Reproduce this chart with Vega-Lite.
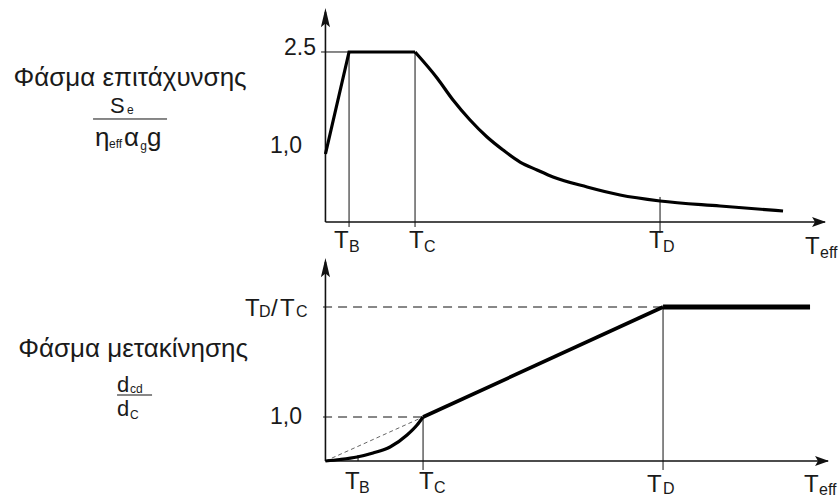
{
  "$schema": "https://vega.github.io/schema/vega-lite/v6.json",
  "padding": 0,
  "spacing": 0,
  "bounds": "flush",
  "background": "white",
  "config": {"view": {"stroke": null}, "font": "Liberation Sans"},
  "datasets": {
    "curves": [
      {"panel": "top", "part": "rise", "i": 0, "x": 0, "y": 1.0},
      {"panel": "top", "part": "rise", "i": 1, "x": 0.1409, "y": 2.5},
      {"panel": "top", "part": "rise", "i": 2, "x": 0.5349, "y": 2.5},
      {"panel": "top", "part": "decay", "i": 0, "x": 0.5349, "y": 2.5},
      {"panel": "top", "part": "decay", "i": 1, "x": 0.6663, "y": 2.118},
      {"panel": "top", "part": "decay", "i": 2, "x": 0.7618, "y": 1.794},
      {"panel": "top", "part": "decay", "i": 3, "x": 0.8633, "y": 1.5},
      {"panel": "top", "part": "decay", "i": 4, "x": 0.9648, "y": 1.25},
      {"panel": "top", "part": "decay", "i": 5, "x": 1.0603, "y": 1.059},
      {"panel": "top", "part": "decay", "i": 6, "x": 1.1618, "y": 0.882},
      {"panel": "top", "part": "decay", "i": 7, "x": 1.2633, "y": 0.765},
      {"panel": "top", "part": "decay", "i": 8, "x": 1.3588, "y": 0.662},
      {"panel": "top", "part": "decay", "i": 9, "x": 1.5618, "y": 0.515},
      {"panel": "top", "part": "decay", "i": 10, "x": 1.7588, "y": 0.397},
      {"panel": "top", "part": "decay", "i": 11, "x": 1.9976, "y": 0.309},
      {"panel": "top", "part": "decay", "i": 12, "x": 2.3558, "y": 0.235},
      {"panel": "top", "part": "decay", "i": 13, "x": 2.7319, "y": 0.162},
      {"panel": "bottom", "part": "bend", "i": 0, "x": 0, "y": 0},
      {"panel": "bottom", "part": "bend", "i": 1, "x": 0.087, "y": 0.034},
      {"panel": "bottom", "part": "bend", "i": 2, "x": 0.1887, "y": 0.091},
      {"panel": "bottom", "part": "bend", "i": 3, "x": 0.2842, "y": 0.182},
      {"panel": "bottom", "part": "bend", "i": 4, "x": 0.3857, "y": 0.318},
      {"panel": "bottom", "part": "bend", "i": 5, "x": 0.4872, "y": 0.591},
      {"panel": "bottom", "part": "bend", "i": 6, "x": 0.5469, "y": 0.818},
      {"panel": "bottom", "part": "bend", "i": 7, "x": 0.5827, "y": 1.0},
      {"panel": "bottom", "part": "ramp", "i": 0, "x": 0.5827, "y": 1.0},
      {"panel": "bottom", "part": "ramp", "i": 1, "x": 2.0155, "y": 3.5},
      {"panel": "bottom", "part": "flat", "i": 0, "x": 2.0155, "y": 3.5},
      {"panel": "bottom", "part": "flat", "i": 1, "x": 2.8931, "y": 3.5}
    ],
    "segments": [
      {"panel": "top", "kind": "axis", "x": 0, "y": 0, "x2": 0, "y2": 3.088},
      {"panel": "top", "kind": "axis", "x": 0, "y": 0, "x2": 2.9827, "y2": 0},
      {"panel": "top", "kind": "guide", "x": -0.0263, "y": 2.5, "x2": 0.1409, "y2": 2.5},
      {"panel": "top", "kind": "guide", "x": 0.1409, "y": -0.0735, "x2": 0.1409, "y2": 2.5},
      {"panel": "top", "kind": "guide", "x": 0.5349, "y": -0.0735, "x2": 0.5349, "y2": 2.5},
      {"panel": "top", "kind": "guide", "x": 1.9976, "y": -0.162, "x2": 1.9976, "y2": 0.368},
      {"panel": "top", "kind": "guide", "x": -1.3875, "y": 1.5147, "x2": -0.9457, "y2": 1.5147},
      {"panel": "bottom", "kind": "axis", "x": 0, "y": 0, "x2": 0, "y2": 4.523},
      {"panel": "bottom", "kind": "axis", "x": 0, "y": 0, "x2": 3.0005, "y2": 0},
      {"panel": "bottom", "kind": "guide", "x": 0.1946, "y": 0, "x2": 0.1946, "y2": 0.136},
      {"panel": "bottom", "kind": "guide", "x": 0.5827, "y": -0.2045, "x2": 0.5827, "y2": 1.0},
      {"panel": "bottom", "kind": "guide", "x": 2.0155, "y": -0.2045, "x2": 2.0155, "y2": 3.5},
      {"panel": "bottom", "kind": "guide", "x": -1.2442, "y": 1.5, "x2": -1.0352, "y2": 1.5},
      {"panel": "bottom", "kind": "dash", "x": -0.0143, "y": 3.5, "x2": 2.0155, "y2": 3.5},
      {"panel": "bottom", "kind": "dash", "x": -0.0143, "y": 1.0, "x2": 0.5827, "y2": 1.0},
      {"panel": "bottom", "kind": "diag", "x": 0, "y": 0, "x2": 0.5827, "y2": 1.0}
    ],
    "arrows": [
      {"panel": "top", "dir": "up", "x": 0, "y": 2.971},
      {"panel": "top", "dir": "right", "x": 2.9289, "y": 0},
      {"panel": "bottom", "dir": "up", "x": 0, "y": 4.341},
      {"panel": "bottom", "dir": "right", "x": 2.9468, "y": 0}
    ],
    "labels": [
      {"panel": "top", "kind": "title", "text": "Φάσμα επιτάχυνσης", "x": -1.1666, "y": 2.0},
      {"panel": "top", "kind": "mid", "text": "S", "x": -1.286, "y": 1.603},
      {"panel": "top", "kind": "small", "text": "e", "x": -1.1845, "y": 1.588},
      {"panel": "top", "kind": "frac", "text": "η", "x": -1.3755, "y": 1.1176},
      {"panel": "top", "kind": "small", "text": "eff", "x": -1.292, "y": 1.088},
      {"panel": "top", "kind": "frac", "text": "α", "x": -1.2025, "y": 1.1176},
      {"panel": "top", "kind": "small", "text": "g", "x": -1.1055, "y": 1.059},
      {"panel": "top", "kind": "frac", "text": "g", "x": -1.0652, "y": 1.1176},
      {"panel": "top", "kind": "tick", "text": "2.5", "x": -0.0561, "y": 2.566},
      {"panel": "top", "kind": "tick", "text": "1,0", "x": -0.1397, "y": 1.1176},
      {"panel": "top", "kind": "big", "text": "T", "x": 0.0513, "y": -0.382},
      {"panel": "top", "kind": "sub", "text": "B", "x": 0.1409, "y": -0.441},
      {"panel": "top", "kind": "big", "text": "T", "x": 0.4991, "y": -0.382},
      {"panel": "top", "kind": "sub", "text": "C", "x": 0.5887, "y": -0.441},
      {"panel": "top", "kind": "big", "text": "T", "x": 1.9319, "y": -0.382},
      {"panel": "top", "kind": "sub", "text": "D", "x": 2.0155, "y": -0.441},
      {"panel": "top", "kind": "big", "text": "T", "x": 2.8633, "y": -0.4706},
      {"panel": "top", "kind": "sub", "text": "eff", "x": 2.9528, "y": -0.529},
      {"panel": "bottom", "kind": "title", "text": "Φάσμα μετακίνησης", "x": -1.148, "y": 2.364},
      {"panel": "bottom", "kind": "mid", "text": "d", "x": -1.2442, "y": 1.568},
      {"panel": "bottom", "kind": "small", "text": "cd", "x": -1.1666, "y": 1.545},
      {"panel": "bottom", "kind": "mid", "text": "d", "x": -1.2442, "y": 1.0227},
      {"panel": "bottom", "kind": "small", "text": "C", "x": -1.1666, "y": 0.9545},
      {"panel": "bottom", "kind": "big", "text": "T", "x": -0.48, "y": 3.295},
      {"panel": "bottom", "kind": "sub", "text": "D", "x": -0.3964, "y": 3.273},
      {"panel": "bottom", "kind": "big", "text": "/", "x": -0.3248, "y": 3.295},
      {"panel": "bottom", "kind": "big", "text": "T", "x": -0.2711, "y": 3.295},
      {"panel": "bottom", "kind": "sub", "text": "C", "x": -0.1755, "y": 3.273},
      {"panel": "bottom", "kind": "tick", "text": "1,0", "x": -0.1397, "y": 1.0},
      {"panel": "bottom", "kind": "big", "text": "T", "x": 0.117, "y": -0.636},
      {"panel": "bottom", "kind": "sub", "text": "B", "x": 0.2006, "y": -0.727},
      {"panel": "bottom", "kind": "big", "text": "T", "x": 0.5588, "y": -0.636},
      {"panel": "bottom", "kind": "sub", "text": "C", "x": 0.6484, "y": -0.727},
      {"panel": "bottom", "kind": "big", "text": "T", "x": 1.92, "y": -0.705},
      {"panel": "bottom", "kind": "sub", "text": "D", "x": 2.0155, "y": -0.75},
      {"panel": "bottom", "kind": "big", "text": "T", "x": 2.8573, "y": -0.705},
      {"panel": "bottom", "kind": "sub", "text": "eff", "x": 2.9469, "y": -0.773}
    ]
  },
  "vconcat": [
    {
      "width": 840,
      "height": 250,
      "encoding": {
        "x": {"field": "x", "type": "quantitative", "scale": {"domain": [-1.943, 3.072], "nice": false, "zero": false}, "axis": null},
        "y": {"field": "y", "type": "quantitative", "scale": {"domain": [-0.4118, 3.2647], "nice": false, "zero": false}, "axis": null}
      },
      "layer": [
        {"data": {"name": "segments"}, "transform": [{"filter": "datum.panel == 'top' && datum.kind == 'guide'"}],
         "mark": {"type": "rule", "color": "#111", "strokeWidth": 1},
         "encoding": {"x2": {"field": "x2"}, "y2": {"field": "y2"}}},
        {"data": {"name": "segments"}, "transform": [{"filter": "datum.panel == 'top' && datum.kind == 'axis'"}],
         "mark": {"type": "rule", "color": "#111", "strokeWidth": 1.6},
         "encoding": {"x2": {"field": "x2"}, "y2": {"field": "y2"}}},
        {"data": {"name": "curves"}, "transform": [{"filter": "datum.panel == 'top' && datum.part == 'rise'"}],
         "mark": {"type": "line", "color": "#000", "strokeWidth": 3.2, "strokeJoin": "miter"},
         "encoding": {"order": {"field": "i", "type": "quantitative"}}},
        {"data": {"name": "curves"}, "transform": [{"filter": "datum.panel == 'top' && datum.part == 'decay'"}],
         "mark": {"type": "line", "color": "#000", "strokeWidth": 3.2, "interpolate": "monotone"},
         "encoding": {"order": {"field": "i", "type": "quantitative"}}},
        {"data": {"name": "arrows"}, "transform": [{"filter": "datum.panel == 'top' && datum.dir == 'up'"}],
         "mark": {"type": "point", "shape": "M0,-1L0.38,0.6L0,0.3L-0.38,0.6Z", "filled": true, "size": 576, "color": "#111", "opacity": 1}},
        {"data": {"name": "arrows"}, "transform": [{"filter": "datum.panel == 'top' && datum.dir == 'right'"}],
         "mark": {"type": "point", "shape": "M0,-1L0.5,0.4L0,0.1L-0.5,0.4Z", "angle": 90, "filled": true, "size": 400, "color": "#111", "opacity": 1}},
        {"data": {"name": "labels"}, "transform": [{"filter": "datum.panel == 'top' && datum.kind == 'title'"}],
         "mark": {"type": "text", "align": "center", "baseline": "alphabetic", "fontSize": 26, "color": "#1a1a1a"},
         "encoding": {"text": {"field": "text"}}},
        {"data": {"name": "labels"}, "transform": [{"filter": "datum.panel == 'top' && datum.kind == 'big'"}],
         "mark": {"type": "text", "align": "left", "baseline": "alphabetic", "fontSize": 24, "color": "#1a1a1a"},
         "encoding": {"text": {"field": "text"}}},
        {"data": {"name": "labels"}, "transform": [{"filter": "datum.panel == 'top' && datum.kind == 'frac'"}],
         "mark": {"type": "text", "align": "left", "baseline": "alphabetic", "fontSize": 26, "color": "#1a1a1a"},
         "encoding": {"text": {"field": "text"}}},
        {"data": {"name": "labels"}, "transform": [{"filter": "datum.panel == 'top' && datum.kind == 'mid'"}],
         "mark": {"type": "text", "align": "left", "baseline": "alphabetic", "fontSize": 22, "color": "#1a1a1a"},
         "encoding": {"text": {"field": "text"}}},
        {"data": {"name": "labels"}, "transform": [{"filter": "datum.panel == 'top' && datum.kind == 'sub'"}],
         "mark": {"type": "text", "align": "left", "baseline": "alphabetic", "fontSize": 16, "color": "#1a1a1a"},
         "encoding": {"text": {"field": "text"}}},
        {"data": {"name": "labels"}, "transform": [{"filter": "datum.panel == 'top' && datum.kind == 'small'"}],
         "mark": {"type": "text", "align": "left", "baseline": "alphabetic", "fontSize": 12, "color": "#1a1a1a"},
         "encoding": {"text": {"field": "text"}}},
        {"data": {"name": "labels"}, "transform": [{"filter": "datum.panel == 'top' && datum.kind == 'tick'"}],
         "mark": {"type": "text", "align": "right", "baseline": "middle", "fontSize": 23, "color": "#1a1a1a"},
         "encoding": {"text": {"field": "text"}}}
      ]
    },
    {
      "width": 840,
      "height": 249,
      "encoding": {
        "x": {"field": "x", "type": "quantitative", "scale": {"domain": [-1.943, 3.072], "nice": false, "zero": false}, "axis": null},
        "y": {"field": "y", "type": "quantitative", "scale": {"domain": [-0.8636, 4.7955], "nice": false, "zero": false}, "axis": null}
      },
      "layer": [
        {"data": {"name": "segments"}, "transform": [{"filter": "datum.panel == 'bottom' && datum.kind == 'guide'"}],
         "mark": {"type": "rule", "color": "#111", "strokeWidth": 1},
         "encoding": {"x2": {"field": "x2"}, "y2": {"field": "y2"}}},
        {"data": {"name": "segments"}, "transform": [{"filter": "datum.panel == 'bottom' && datum.kind == 'dash'"}],
         "mark": {"type": "rule", "color": "#111", "strokeWidth": 1, "strokeDash": [9, 6]},
         "encoding": {"x2": {"field": "x2"}, "y2": {"field": "y2"}}},
        {"data": {"name": "segments"}, "transform": [{"filter": "datum.panel == 'bottom' && datum.kind == 'diag'"}],
         "mark": {"type": "rule", "color": "#666", "strokeWidth": 1, "strokeDash": [4, 3]},
         "encoding": {"x2": {"field": "x2"}, "y2": {"field": "y2"}}},
        {"data": {"name": "segments"}, "transform": [{"filter": "datum.panel == 'bottom' && datum.kind == 'axis'"}],
         "mark": {"type": "rule", "color": "#111", "strokeWidth": 1.6},
         "encoding": {"x2": {"field": "x2"}, "y2": {"field": "y2"}}},
        {"data": {"name": "curves"}, "transform": [{"filter": "datum.panel == 'bottom' && datum.part == 'bend'"}],
         "mark": {"type": "line", "color": "#000", "strokeWidth": 3.2, "interpolate": "monotone"},
         "encoding": {"order": {"field": "i", "type": "quantitative"}}},
        {"data": {"name": "curves"}, "transform": [{"filter": "datum.panel == 'bottom' && datum.part == 'ramp'"}],
         "mark": {"type": "line", "color": "#000", "strokeWidth": 3.6},
         "encoding": {"order": {"field": "i", "type": "quantitative"}}},
        {"data": {"name": "curves"}, "transform": [{"filter": "datum.panel == 'bottom' && datum.part == 'flat'"}],
         "mark": {"type": "line", "color": "#000", "strokeWidth": 5},
         "encoding": {"order": {"field": "i", "type": "quantitative"}}},
        {"data": {"name": "arrows"}, "transform": [{"filter": "datum.panel == 'bottom' && datum.dir == 'up'"}],
         "mark": {"type": "point", "shape": "M0,-1L0.38,0.6L0,0.3L-0.38,0.6Z", "filled": true, "size": 576, "color": "#111", "opacity": 1}},
        {"data": {"name": "arrows"}, "transform": [{"filter": "datum.panel == 'bottom' && datum.dir == 'right'"}],
         "mark": {"type": "point", "shape": "M0,-1L0.5,0.4L0,0.1L-0.5,0.4Z", "angle": 90, "filled": true, "size": 400, "color": "#111", "opacity": 1}},
        {"data": {"name": "labels"}, "transform": [{"filter": "datum.panel == 'bottom' && datum.kind == 'title'"}],
         "mark": {"type": "text", "align": "center", "baseline": "alphabetic", "fontSize": 26, "color": "#1a1a1a"},
         "encoding": {"text": {"field": "text"}}},
        {"data": {"name": "labels"}, "transform": [{"filter": "datum.panel == 'bottom' && datum.kind == 'big'"}],
         "mark": {"type": "text", "align": "left", "baseline": "alphabetic", "fontSize": 24, "color": "#1a1a1a"},
         "encoding": {"text": {"field": "text"}}},
        {"data": {"name": "labels"}, "transform": [{"filter": "datum.panel == 'bottom' && datum.kind == 'mid'"}],
         "mark": {"type": "text", "align": "left", "baseline": "alphabetic", "fontSize": 22, "color": "#1a1a1a"},
         "encoding": {"text": {"field": "text"}}},
        {"data": {"name": "labels"}, "transform": [{"filter": "datum.panel == 'bottom' && datum.kind == 'sub'"}],
         "mark": {"type": "text", "align": "left", "baseline": "alphabetic", "fontSize": 16, "color": "#1a1a1a"},
         "encoding": {"text": {"field": "text"}}},
        {"data": {"name": "labels"}, "transform": [{"filter": "datum.panel == 'bottom' && datum.kind == 'small'"}],
         "mark": {"type": "text", "align": "left", "baseline": "alphabetic", "fontSize": 12, "color": "#1a1a1a"},
         "encoding": {"text": {"field": "text"}}},
        {"data": {"name": "labels"}, "transform": [{"filter": "datum.panel == 'bottom' && datum.kind == 'tick'"}],
         "mark": {"type": "text", "align": "right", "baseline": "middle", "fontSize": 23, "color": "#1a1a1a"},
         "encoding": {"text": {"field": "text"}}}
      ]
    }
  ]
}
